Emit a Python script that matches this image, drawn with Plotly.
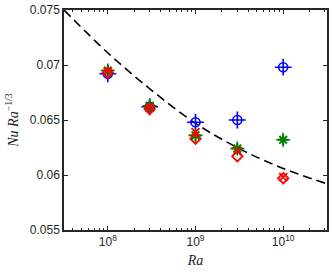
import plotly.graph_objects as go

ra = [1e8, 3e8, 1e9, 3e9, 1e10]
blue_vals = [0.0692, 0.0662, 0.0648, 0.0650, 0.0698]
green_vals = [0.0695, 0.0663, 0.0636, 0.0624, 0.0632]
red_x_vals = [0.0694, 0.0661, 0.0639, 0.0622, 0.0598]
red_d_vals = [0.0693, 0.0660, 0.0633, 0.0617, 0.0597]

fit_ra = [10**7.5, 1e8, 10**8.5, 1e9, 10**9.5, 1e10, 10**10.5]
fit_vals = [0.0750, 0.0711, 0.0677, 0.0647, 0.0624, 0.0606, 0.0592]

fig = go.Figure()
fig.add_trace(go.Scatter(x=fit_ra, y=fit_vals, mode="lines",
                         line=dict(color="black", width=1.6, dash="9px,5px", shape="spline"),
                         showlegend=False))
fig.add_trace(go.Scatter(x=ra, y=blue_vals, mode="markers",
                         marker=dict(symbol="circle-open", size=9, color="blue", line=dict(width=1.6, color="blue")),
                         showlegend=False))
fig.add_trace(go.Scatter(x=ra, y=blue_vals, mode="markers",
                         marker=dict(symbol="cross-thin-open", size=12, color="blue", line=dict(width=1.6, color="blue")),
                         showlegend=False))
fig.add_trace(go.Scatter(x=ra, y=green_vals, mode="markers",
                         marker=dict(symbol="asterisk-open", size=9, color="green", line=dict(width=2, color="green")),
                         showlegend=False))
fig.add_trace(go.Scatter(x=ra, y=green_vals, mode="markers",
                         marker=dict(symbol="cross-thin-open", size=10, color="green", line=dict(width=1.6, color="green")),
                         showlegend=False))
fig.add_trace(go.Scatter(x=ra, y=red_x_vals, mode="markers",
                         marker=dict(symbol="x-thin-open", size=8, color="red", line=dict(width=1.8, color="red")),
                         showlegend=False))
fig.add_trace(go.Scatter(x=ra, y=red_d_vals, mode="markers",
                         marker=dict(symbol="diamond-open", size=8, color="red", line=dict(width=1.8, color="red")),
                         showlegend=False))

axis_col = "#262626"
fig.update_layout(
    width=332, height=272,
    margin=dict(l=64, r=3, t=7, b=42),
    paper_bgcolor="white", plot_bgcolor="white",
    font=dict(family="Liberation Sans, Arial, sans-serif", size=12, color=axis_col),
    xaxis=dict(type="log", range=[7.5, 10.5],
               tickvals=[1e8, 1e9, 1e10],
               ticktext=["10<sup>8</sup>", "10<sup>9</sup>", "10<sup>10</sup>"],
               ticks="inside", ticklen=4, tickwidth=1, tickcolor=axis_col,
               minor=dict(ticks="inside", ticklen=2, tickcolor=axis_col, dtick="D1", showgrid=False),
               showline=True, linecolor=axis_col, linewidth=1.5, mirror="ticks",
               showgrid=False, zeroline=False,
               title=dict(text="<i>Ra</i>", font=dict(family="Liberation Serif, DejaVu Serif, serif", size=14), standoff=7)),
    yaxis=dict(range=[0.055, 0.075],
               tickvals=[0.055, 0.06, 0.065, 0.07, 0.075],
               ticktext=["0.055", "0.06", "0.065", "0.07", "0.075"],
               ticks="inside", ticklen=4, tickwidth=1, tickcolor=axis_col,
               showline=True, linecolor=axis_col, linewidth=1.5, mirror="ticks",
               showgrid=False, zeroline=False,
               title=dict(text="<i>Nu Ra</i><sup>−1/3</sup>", font=dict(family="Liberation Serif, DejaVu Serif, serif", size=14), standoff=8)),
)

fig.write_html("out.html", config={"displayModeBar": False},
               post_script="document.body.style.margin='0px';document.body.style.overflow='hidden';")
